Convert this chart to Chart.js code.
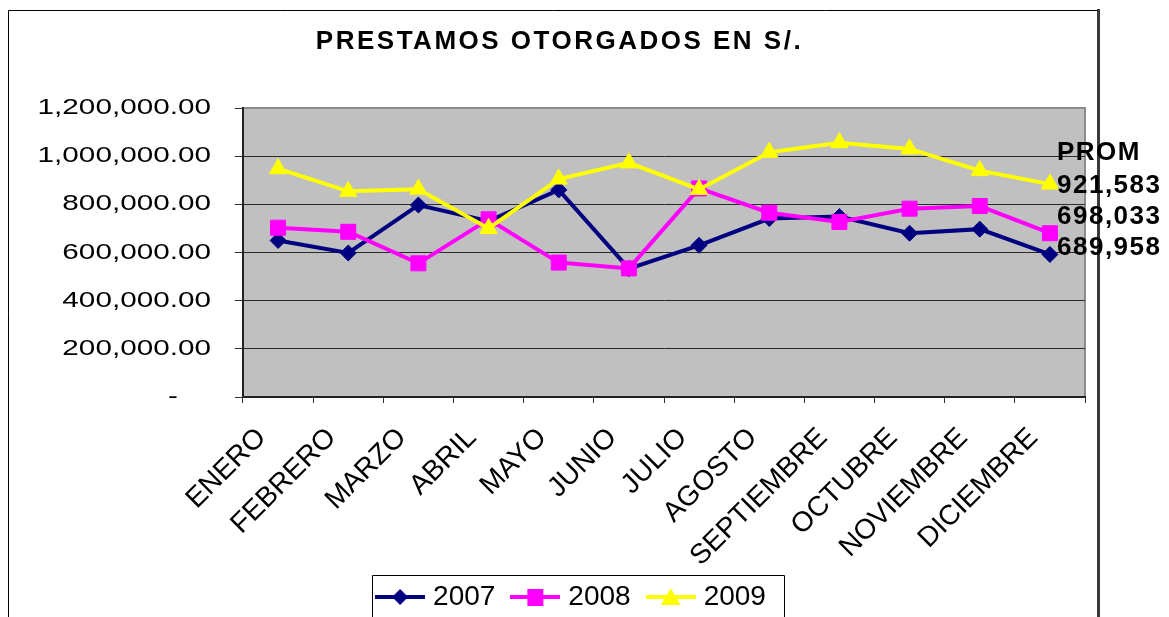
<!DOCTYPE html>
<html>
<head>
<meta charset="utf-8">
<script src="https://cdn.jsdelivr.net/npm/chart.js@4.4.1/dist/chart.umd.min.js"></script>
<style>
html,body{margin:0;padding:0;background:#fff;}
#c{display:block;}
</style>
</head>
<body>
<canvas id="c" width="1169" height="617"></canvas>
<script>
// ---- data ----
const categories = ['ENERO','FEBRERO','MARZO','ABRIL','MAYO','JUNIO','JULIO','AGOSTO','SEPTIEMBRE','OCTUBRE','NOVIEMBRE','DICIEMBRE'];
const seriesNames = ['2007','2008','2009'];
const values2007 = [650000, 598000, 797000, 730000, 860000, 533000, 630000, 741000, 749000, 680000, 697000, 592000];
const values2008 = [703000, 686000, 555000, 738000, 558000, 534000, 866000, 765000, 727000, 782000, 793000, 680000];
const values2009 = [948000, 854000, 863000, 700000, 905000, 972000, 862000, 1016000, 1056000, 1030000, 940000, 884000];
const yTickValues = [0, 200000, 400000, 600000, 800000, 1000000, 1200000];
const promLabels = ['PROM', '921,583', '698,033', '689,958'];
const chartTitle = 'PRESTAMOS OTORGADOS EN S/.';

const colors = ['#000080', '#FF00FF', '#FFFF00'];

Chart.defaults.font.family = "'Liberation Sans', Arial, sans-serif";
Chart.defaults.color = '#000';

function legendIcon(color, shape) {
  const c = document.createElement('canvas');
  c.width = 50; c.height = 24;
  const g = c.getContext('2d');
  g.strokeStyle = color; g.lineWidth = 4;
  g.beginPath(); g.moveTo(0, 12); g.lineTo(50, 12); g.stroke();
  g.fillStyle = color; g.beginPath();
  if (shape === 'diamond') { g.moveTo(25, 4); g.lineTo(33, 12); g.lineTo(25, 20); g.lineTo(17, 12); }
  else if (shape === 'square') { g.rect(17, 4, 16, 17); }
  else { g.moveTo(25, 3); g.lineTo(35, 20); g.lineTo(15, 20); }
  g.closePath(); g.fill();
  return c;
}
const legendIcons = [legendIcon(colors[0], 'diamond'), legendIcon(colors[1], 'square'), legendIcon(colors[2], 'triangle')];

function wrapDraw(obj, method, pre) {
  if (!obj || obj['_w_' + method]) return;
  const orig = obj[method].bind(obj);
  obj[method] = function (...args) {
    const c = this.ctx;
    c.save();
    pre(c);
    orig(...args);
    c.restore();
  };
  obj['_w_' + method] = true;
}

const decorPlugin = {
  id: 'decor',
  beforeDraw(chart) {
    const ctx = chart.ctx;
    const a = chart.chartArea;
    // y labels: horizontally stretched, anchored at their right edge
    const ys = chart.scales.y;
    const xr = ys.right - 8 - 24;
    wrapDraw(ys, 'drawLabels', (c) => { c.translate(xr, 0); c.scale(1.35, 1); c.translate(-xr, 0); });
    wrapDraw(chart.titleBlock, 'draw', (c) => { c.letterSpacing = '2.5px'; });
    chart.scales.x._computeLabelArea = () => undefined;
    // legend placement
    const lg = chart.legend;
    if (lg) { lg.left = 342; lg.right = 805; lg.top = 562; lg.bottom = 640; }
    ctx.save();
    ctx.fillStyle = '#fff';
    ctx.fillRect(0, 0, chart.width, chart.height);
    // outer frame
    ctx.strokeStyle = '#000'; ctx.lineWidth = 1;
    ctx.beginPath();
    ctx.moveTo(8.5, 617); ctx.lineTo(8.5, 10.5); ctx.lineTo(1098, 10.5);
    ctx.stroke();
    ctx.strokeStyle = '#3a3a3a'; ctx.lineWidth = 3;
    ctx.beginPath(); ctx.moveTo(1098.5, 9); ctx.lineTo(1098.5, 617); ctx.stroke();
    // plot area
    ctx.fillStyle = '#C0C0C0';
    ctx.fillRect(a.left, a.top, a.right - a.left, a.bottom - a.top);
    ctx.strokeStyle = '#8c8c8c'; ctx.lineWidth = 2;
    ctx.strokeRect(a.left, a.top, a.right - a.left, a.bottom - a.top);
    ctx.restore();
  },
  afterDraw(chart) {
    const ctx = chart.ctx;
    ctx.save();
    // legend frame
    ctx.strokeStyle = '#000'; ctx.lineWidth = 1;
    ctx.beginPath();
    ctx.moveTo(372.5, 617); ctx.lineTo(372.5, 575.5); ctx.lineTo(784.5, 575.5); ctx.lineTo(784.5, 617);
    ctx.stroke();
    // PROM labels
    ctx.fillStyle = '#000';
    ctx.font = "bold 26px 'Liberation Sans', Arial, sans-serif";
    ctx.letterSpacing = '1.5px';
    ctx.textAlign = 'left';
    ctx.textBaseline = 'middle';
    const ys = [153, 186, 217, 248];
    promLabels.forEach((t, i) => ctx.fillText(t, 1057, ys[i]));
    ctx.restore();
  }
};

const datasets = [
  { label: seriesNames[0], data: values2007, borderColor: colors[0], backgroundColor: colors[0],
    pointStyle: 'rectRot', pointRadius: 8, order: 3 },
  { label: seriesNames[1], data: values2008, borderColor: colors[1], backgroundColor: colors[1],
    pointStyle: 'rect', pointRadius: 10.6, order: 2 },
  { label: seriesNames[2], data: values2009, borderColor: colors[2], backgroundColor: colors[2],
    pointStyle: 'triangle', pointRadius: 10, order: 1 }
].map(d => Object.assign(d, {
  borderWidth: 4, tension: 0, pointBackgroundColor: d.borderColor, pointBorderColor: d.borderColor,
  pointBorderWidth: 1, fill: false
}));

new Chart(document.getElementById('c'), {
  type: 'line',
  data: { labels: categories, datasets },
  options: {
    responsive: false,
    devicePixelRatio: 1,
    animation: false,
    events: [],
    layout: { padding: { left: 34, right: 84, top: 0, bottom: 0 } },
    plugins: {
      title: {
        display: true,
        text: chartTitle,
        font: { size: 26, weight: 'bold' },
        color: '#000',
        padding: { top: 26, bottom: 50.8 }
      },
      legend: {
        display: true,
        position: 'bottom',
        labels: {
          font: { size: 28 },
          color: '#000',
          padding: 21,
          usePointStyle: true,
          pointStyleWidth: 38,
          boxHeight: 24,
          generateLabels(chart) {
            const items = Chart.defaults.plugins.legend.labels.generateLabels(chart);
            items.forEach(it => { it.pointStyle = legendIcons[it.datasetIndex]; });
            return items;
          },
          sort: (a, b) => a.datasetIndex - b.datasetIndex
        }
      },
      tooltip: { enabled: false }
    },
    scales: {
      x: {
        type: 'category',
        offset: true,
        afterFit(scale) { scale.height = 161; },
        grid: { display: true, drawOnChartArea: false, drawTicks: true, tickLength: 6, offset: true, color: '#333', lineWidth: 1 },
        border: { display: true, color: '#222', width: 2 },
        ticks: {
          autoSkip: false, minRotation: 45, maxRotation: 45, padding: 2, font: { size: 28 }, color: '#000',
          callback: (v, i) => categories[i] + '   '
        }
      },
      y: {
        min: 0,
        max: 1200000,
        afterFit(scale) { scale.width = 209; },
        afterBuildTicks(scale) { scale.ticks = yTickValues.map(v => ({ value: v })); },
        grid: {
          display: true, drawTicks: true, tickLength: 8, lineWidth: 1,
          color: (c) => (c.tick && c.tick.value === 1200000) ? '#8c8c8c' : '#2a2a2a',
          tickColor: '#333'
        },
        border: { display: true, color: '#222', width: 2 },
        ticks: {
          padding: 24,
          font: { size: 22 },
          color: '#000',
          callback: (v) => v === 0 ? '-    ' : Number(v).toLocaleString('en-US', { minimumFractionDigits: 2, maximumFractionDigits: 2 })
        }
      }
    }
  },
  plugins: [decorPlugin]
});
</script>
</body>
</html>
